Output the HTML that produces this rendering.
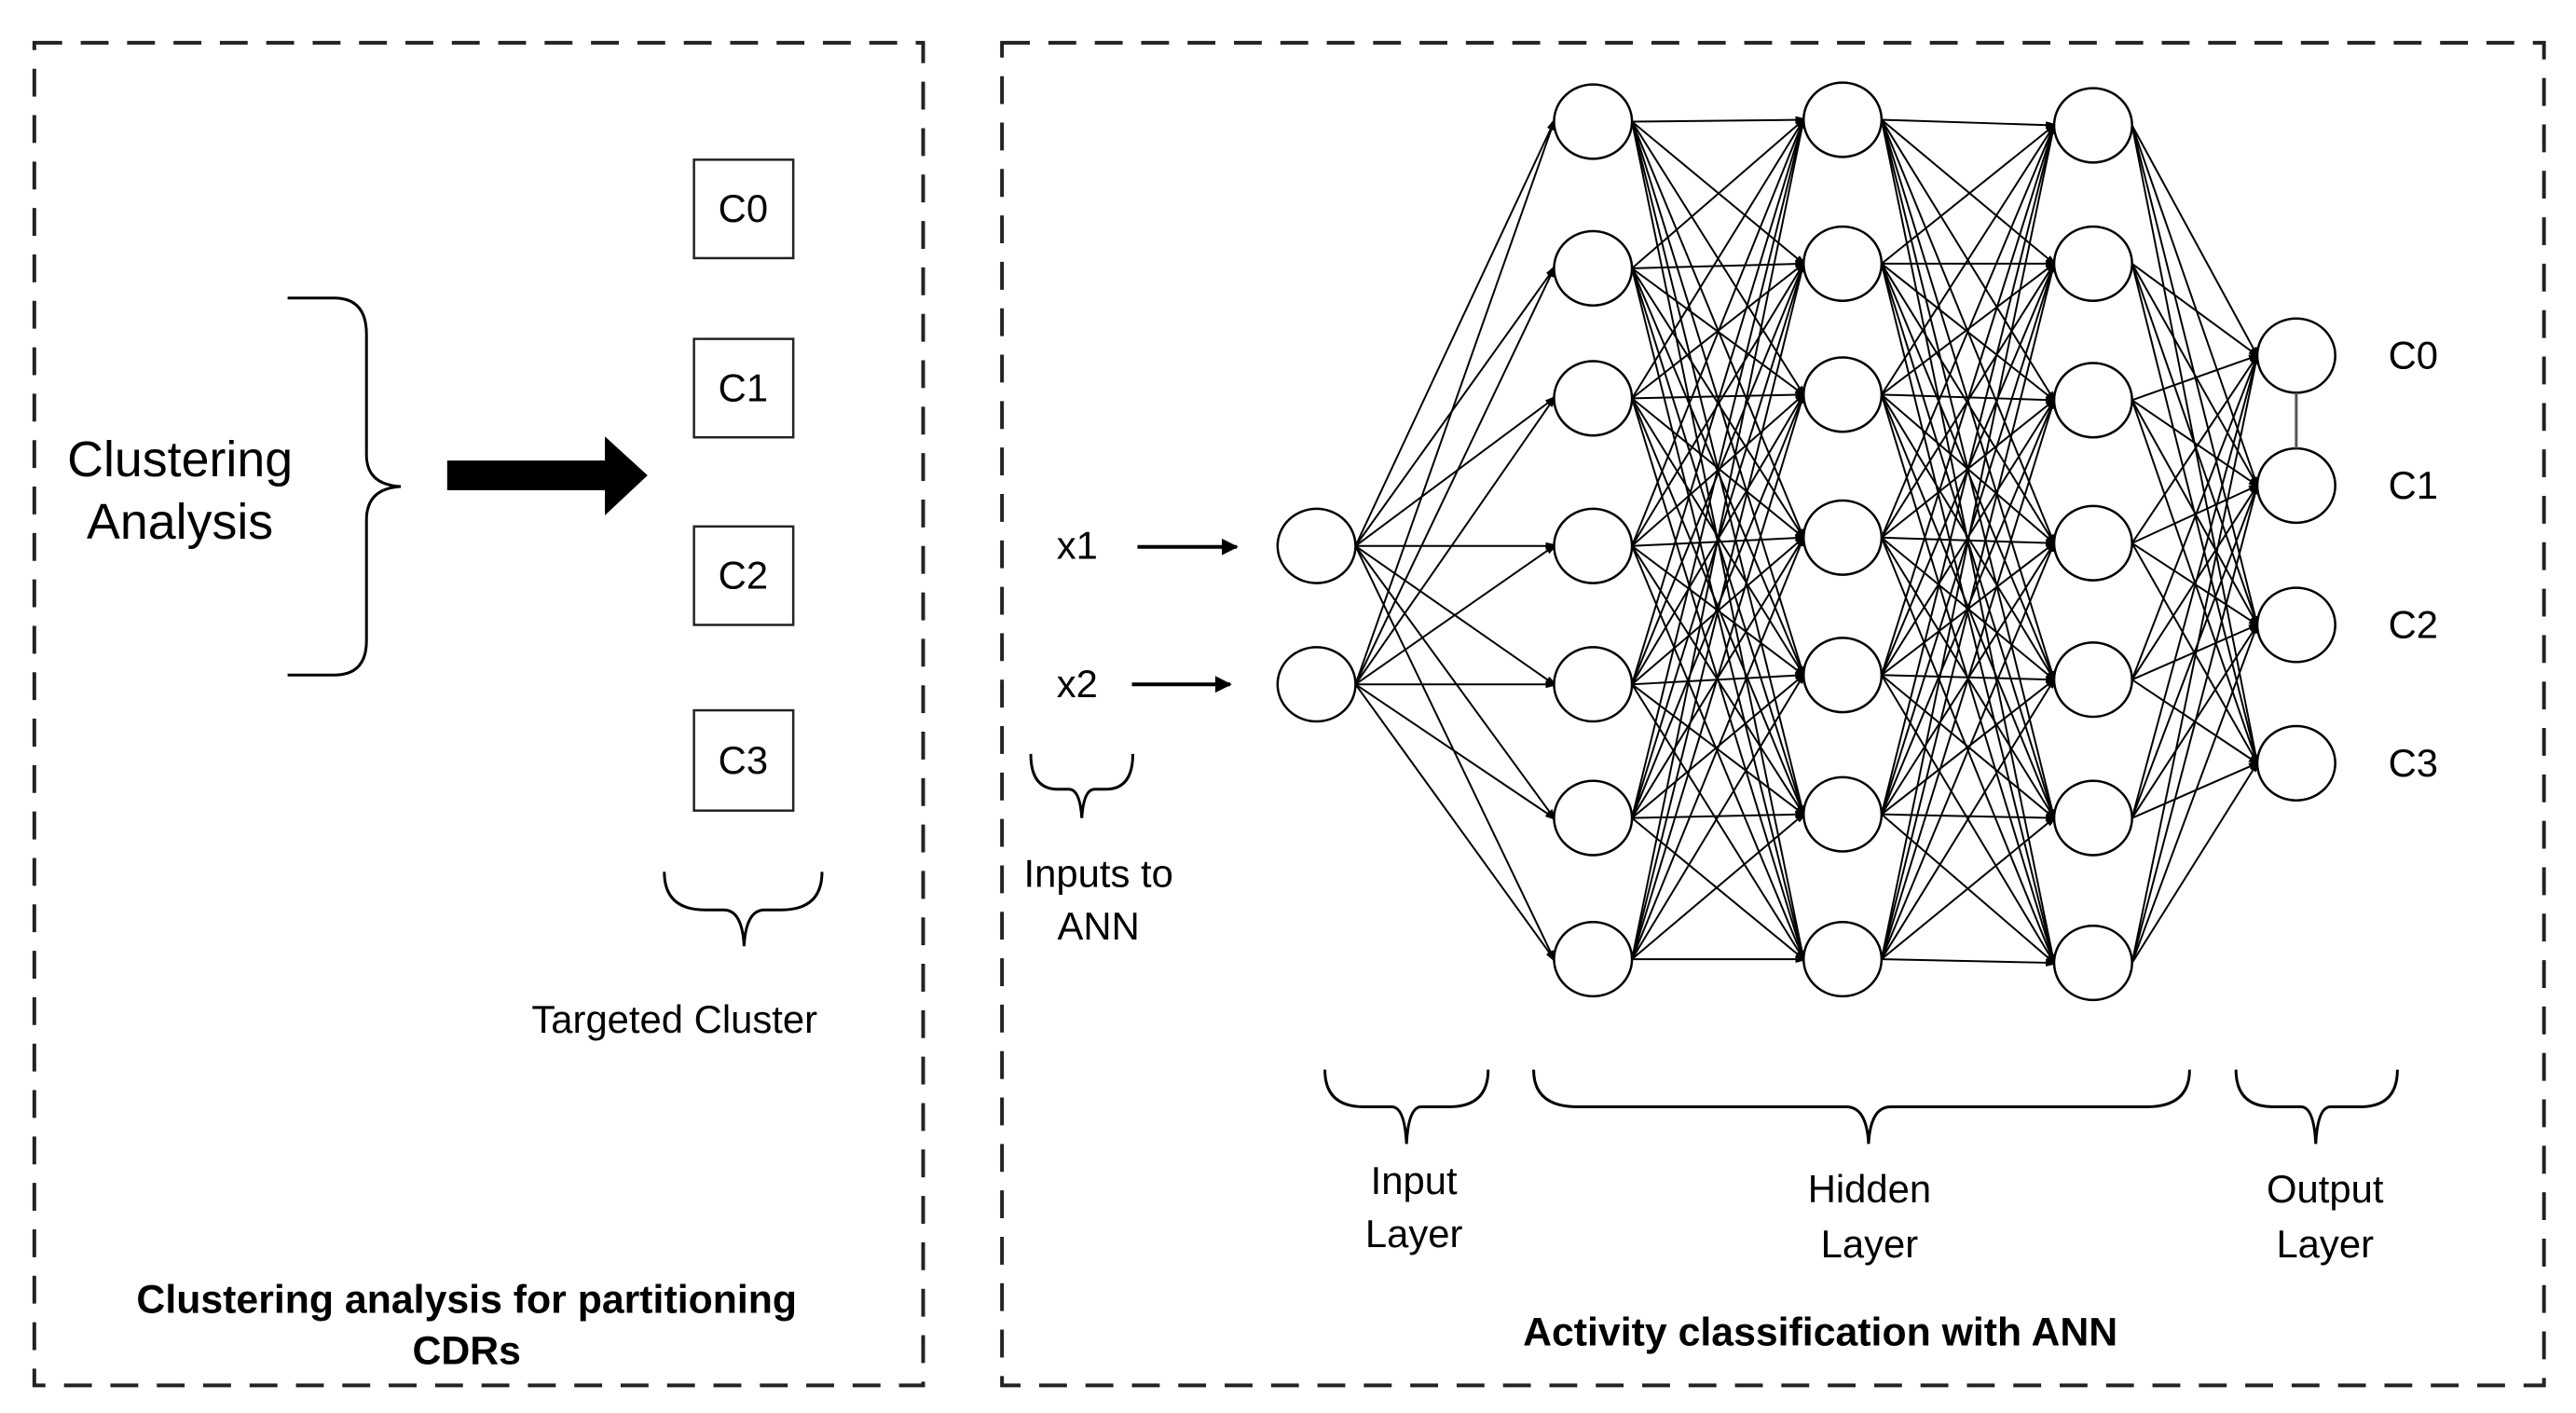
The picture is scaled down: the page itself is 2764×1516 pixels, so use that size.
<!DOCTYPE html>
<html><head><meta charset="utf-8"><style>
html,body{margin:0;padding:0;background:#fff;}
svg{display:block;}
text{font-family:"Liberation Sans",Arial,sans-serif;fill:#000;}
</style></head><body>
<svg id="s" width="2764" height="1516" viewBox="0 0 2764 1516" xmlns="http://www.w3.org/2000/svg">
<defs>
<marker id="ah" markerWidth="10" markerHeight="8" refX="9" refY="4" orient="auto" markerUnits="userSpaceOnUse">
<path d="M0,0 L16,4 L0,8 z" fill="#000"/>
</marker>
<marker id="ah2" viewBox="0 0 10 10" markerWidth="18" markerHeight="18" refX="9" refY="5" orient="auto" markerUnits="userSpaceOnUse">
<path d="M0,0 L10,5 L0,10 z" fill="#000"/>
</marker>
</defs>
<g transform="scale(0.9955,0.9962)">
<g fill="none" stroke="#222" stroke-width="4" stroke-dasharray="30,20">
<rect x="37" y="46" width="958" height="1446"/>
<rect x="1080" y="46" width="1662" height="1446"/>
</g>
<g fill="none" stroke="#000" stroke-width="3">
<path d="M310,321 H360 Q395,321 395,360 V490 Q395,522 432,524 Q395,526 395,560 V690 Q395,727 360,727 H310"/>
<path d="M716,939 Q716,980 760,980 H780 Q800,980 802,1019 Q804,980 824,980 H842 Q886,980 886,939"/>
</g>
<rect x="482" y="496" width="174" height="32" fill="#000"/>
<path d="M652,470 L698,512 L652,555 z" fill="#000"/>
<g fill="#fff" stroke="#222" stroke-width="2.5">
<rect x="748" y="172" width="107" height="106"/>
<rect x="748" y="365" width="107" height="106"/>
<rect x="748" y="567" width="107" height="106"/>
<rect x="748" y="765" width="107" height="108"/>
</g>
<g font-size="42" text-anchor="middle">
<text x="801" y="239">C0</text>
<text x="801" y="432">C1</text>
<text x="801" y="634">C2</text>
<text x="801" y="833">C3</text>
</g>
<text x="194" y="513" font-size="54" text-anchor="middle">Clustering</text>
<text x="194" y="580" font-size="54" text-anchor="middle">Analysis</text>
<text x="727" y="1112" font-size="42" text-anchor="middle">Targeted Cluster</text>
<text x="503" y="1414" font-size="43" font-weight="bold" text-anchor="middle">Clustering analysis for partitioning</text>
<text x="503" y="1469" font-size="43" font-weight="bold" text-anchor="middle">CDRs</text>
<g id="net" stroke="#000" stroke-width="2" fill="none"></g>
<g id="nodes" fill="#fff" stroke="#000" stroke-width="2.5"></g>
<line x1="2475" y1="423" x2="2475" y2="483" stroke="#555" stroke-width="3"/>
<g font-size="42" text-anchor="middle">
<text x="2601" y="397">C0</text>
<text x="2601" y="537">C1</text>
<text x="2601" y="687">C2</text>
<text x="2601" y="836">C3</text>
<text x="1161" y="602">x1</text>
<text x="1161" y="751">x2</text>
</g>
<g stroke="#000" stroke-width="4" marker-end="url(#ah2)">
<line x1="1226" y1="589" x2="1333" y2="589"/>
<line x1="1220" y1="737" x2="1326" y2="737"/>
</g>
<g fill="none" stroke="#000" stroke-width="3">
<path d="M1111,812 Q1111,850 1140,850 H1152 Q1164,850 1166,881 Q1168,850 1180,850 H1192 Q1221,850 1221,812"/>
<path d="M1428,1152 Q1428,1192 1470,1192 H1500 Q1514,1192 1516,1232 Q1518,1192 1532,1192 H1562 Q1604,1192 1604,1152"/>
<path d="M1653,1152 Q1653,1192 1700,1192 H1990 Q2012,1192 2014,1232 Q2016,1192 2038,1192 H2314 Q2360,1192 2360,1152"/>
<path d="M2410,1152 Q2410,1192 2450,1192 H2480 Q2494,1192 2496,1232 Q2498,1192 2512,1192 H2544 Q2584,1192 2584,1152"/>
</g>
<g font-size="42" text-anchor="middle">
<text x="1184" y="955">Inputs to</text>
<text x="1184" y="1012">ANN</text>
<text x="1524" y="1286">Input</text>
<text x="1524" y="1343">Layer</text>
<text x="2015" y="1295">Hidden</text>
<text x="2015" y="1354">Layer</text>
<text x="2506" y="1295">Output</text>
<text x="2506" y="1354">Layer</text>
</g>
<text x="1962" y="1449" font-size="43" font-weight="bold" text-anchor="middle">Activity classification with ANN</text>
</g>
</svg>
<script>
var NS="http://www.w3.org/2000/svg";
var layers=[
 {x:1419,ys:[588,737]},
 {x:1717,ys:[131,289,429,588,737,881,1033]},
 {x:1986,ys:[129,284,425,579,727,877,1033]},
 {x:2256,ys:[135,284,431,585,732,881,1037]},
 {x:2475,ys:[383,523,673,822]}
];
var rx=42,ry=40,net=document.getElementById("net"),nodes=document.getElementById("nodes");
for(var l=0;l<layers.length-1;l++){
 var A=layers[l],B=layers[l+1];
 A.ys.forEach(function(ya){B.ys.forEach(function(yb){
  var ln=document.createElementNS(NS,"line");
  ln.setAttribute("x1",A.x+rx);ln.setAttribute("y1",ya);
  ln.setAttribute("x2",B.x-rx);ln.setAttribute("y2",yb);
  ln.setAttribute("marker-end","url(#ah)");
  net.appendChild(ln);
 });});
}
layers.forEach(function(L){L.ys.forEach(function(y){
 var e=document.createElementNS(NS,"ellipse");
 e.setAttribute("cx",L.x);e.setAttribute("cy",y);e.setAttribute("rx",rx);e.setAttribute("ry",ry);
 nodes.appendChild(e);
});});
</script>
</body></html>
